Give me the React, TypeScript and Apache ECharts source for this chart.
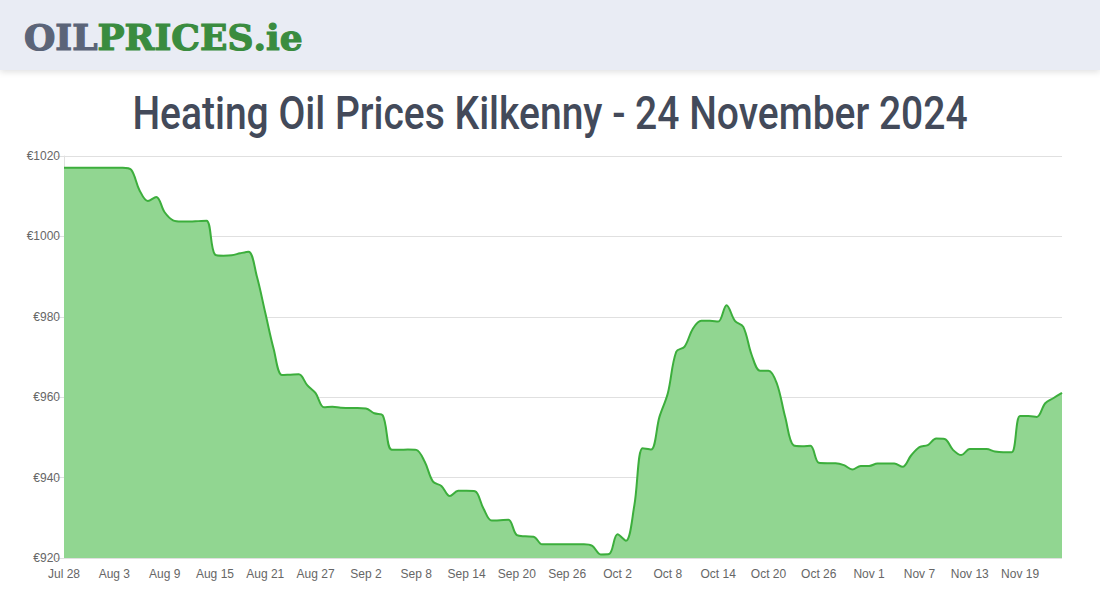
import React, { useEffect, useRef } from "react";
import * as echarts from "echarts";

const startDate = { month: 6, day: 28, year: 2024 }; // Jul 28 2024
const monthNames = ["Jan", "Feb", "Mar", "Apr", "May", "Jun", "Jul", "Aug", "Sep", "Oct", "Nov", "Dec"];

const prices: number[] = [
  1017.1, 1017.1, 1017.1, 1017.1, 1017.1, 1017.1, 1017.1, 1017.1, 1016.6, 1011.5,
  1008.8, 1009.8, 1006.0, 1004.0, 1003.7, 1003.7, 1003.8, 1003.9, 995.5, 995.2,
  995.3, 995.8, 996.2, 990.0, 981.0, 972.0, 965.5, 965.6, 965.7, 963.0,
  961.0, 957.5, 957.6, 957.4, 957.3, 957.3, 957.2, 956.0, 955.5, 947.0,
  946.9, 947.0, 946.9, 944.0, 939.0, 937.9, 935.4, 936.7, 936.7, 936.6,
  932.4, 929.3, 929.4, 929.5, 925.7, 925.4, 925.3, 923.4, 923.4, 923.4,
  923.4, 923.4, 923.4, 923.0, 920.9, 921.0, 925.9, 924.3, 933.0, 947.3,
  947.0, 955.1, 961.0, 971.3, 972.6, 977.1, 979.0, 979.0, 978.8, 982.9,
  979.0, 977.5, 970.5, 966.6, 966.6, 963.4, 955.0, 948.0, 947.8, 947.9,
  943.7, 943.6, 943.6, 943.1, 942.0, 942.9, 942.9, 943.5, 943.5, 943.5,
  942.7, 945.5, 947.6, 948.1, 949.7, 949.6, 946.9, 945.6, 947.1, 947.1,
  947.1, 946.5, 946.3, 946.3, 955.3, 955.3, 955.1, 958.5, 959.8, 961.1,
];

const categories: string[] = prices.map((_, i) => {
  const d = new Date(startDate.year, startDate.month, startDate.day + i);
  return `${monthNames[d.getMonth()]} ${d.getDate()}`;
});

const yMin = 920;
const yMax = 1020;
const yStep = 20;

const titleText = "Heating Oil Prices Kilkenny - 24 November 2024";

export default function App() {
  const ref = useRef<HTMLDivElement>(null);
  useEffect(() => {
    if (!ref.current) return;
    const chart = echarts.init(ref.current, undefined, { renderer: "svg" });
    chart.setOption({
      animation: false,
      backgroundColor: "#ffffff",
      graphic: [
        {
          type: "rect",
          left: 0,
          top: 0,
          shape: { width: 1100, height: 70 },
          style: { fill: "#e9ecf4", shadowBlur: 6, shadowColor: "rgba(0,0,0,0.12)", shadowOffsetY: 2 },
          z: 10,
        },
        {
          type: "text",
          x: 24,
          y: 19,
          scaleX: 1.0,
          z: 11,
          style: {
            text: "{a|OIL}{b|PRICES}{c|.ie}",
            rich: {
              a: { fontFamily: "DejaVu Serif", fontWeight: "bold", fontSize: 36, fill: "#5b6478", stroke: "#5b6478", lineWidth: 1.2 },
              b: { fontFamily: "DejaVu Serif", fontWeight: "bold", fontSize: 36, fill: "#3a8c3f", stroke: "#3a8c3f", lineWidth: 1.2 },
              c: { fontFamily: "DejaVu Serif", fontWeight: "bold", fontSize: 36, fill: "#3a8c3f", stroke: "#3a8c3f", lineWidth: 1.2 },
            },
          },
        },
        {
          type: "text",
          x: 550,
          y: 113,
          scaleX: 0.83,
          z: 11,
          style: {
            text: titleText,
            fontFamily: "Roboto",
            fontWeight: 500,
            fontSize: 47,
            fill: "#434a5a",
            align: "center",
            verticalAlign: "middle",
          },
        },
      ],
      grid: { left: 64, right: 38, top: 156, bottom: 42, containLabel: false },
      xAxis: {
        type: "category",
        data: categories,
        boundaryGap: false,
        axisLine: { show: false },
        axisTick: { show: false },
        splitLine: { show: false },
        axisLabel: {
          interval: 5,
          color: "#666666",
          fontFamily: "Arial, Liberation Sans",
          fontSize: 12,
          margin: 10,
        },
      },
      yAxis: {
        type: "value",
        min: yMin,
        max: yMax,
        interval: yStep,
        axisLine: { show: true, lineStyle: { color: "#e0e0e0" } },
        axisTick: { show: true, length: 8, lineStyle: { color: "#e0e0e0" } },
        splitLine: { show: true, lineStyle: { color: "#e0e0e0", width: 1 } },
        axisLabel: {
          formatter: (v: number) => `€${v}`,
          color: "#666666",
          fontFamily: "Arial, Liberation Sans",
          fontSize: 12,
          margin: 4,
        },
      },
      series: [
        {
          type: "line",
          data: prices,
          smooth: 0.35,
          showSymbol: false,
          lineStyle: { color: "#3cae3c", width: 2 },
          areaStyle: { color: "#91d691", opacity: 1 },
          z: 2,
        },
      ],
    });
    return () => chart.dispose();
  }, []);
  return (
    <div
      ref={ref}
      style={{ position: "fixed", left: 0, top: 0, width: 1100, height: 600 }}
    />
  );
}
